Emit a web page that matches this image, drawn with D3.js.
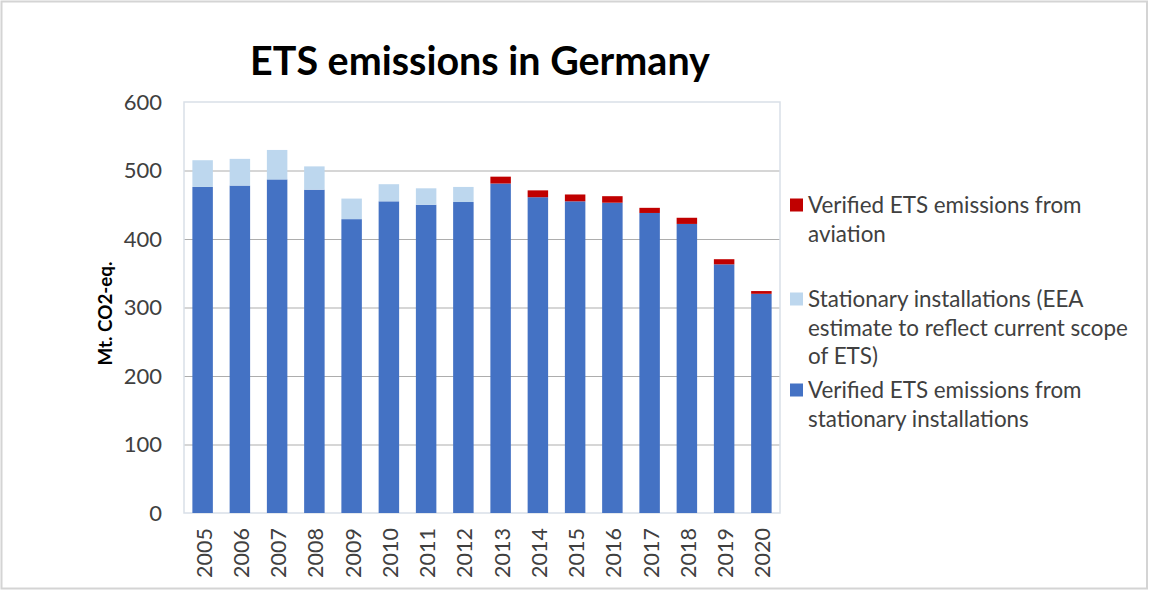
<!DOCTYPE html>
<html>
<head>
<meta charset="utf-8">
<script src="https://cdn.jsdelivr.net/npm/d3@7"></script>
<style>
  body { margin: 0; background: #fff; }
  svg text { font-family: Lato, "Open Sans", sans-serif; }
</style>
</head>
<body>
<svg id="chart" width="1149" height="591"></svg>
<script>
// Chart data (Mt CO2-eq.)
var years = ["2005", "2006", "2007", "2008", "2009", "2010", "2011", "2012",
             "2013", "2014", "2015", "2016", "2017", "2018", "2019", "2020"];
var verifiedStationary = [476, 478, 487, 472, 429, 455, 450, 454, 481, 461, 455, 453, 438, 422, 363, 320];
var eeaEstimate        = [39, 39, 43, 34, 30, 25, 24, 22, 0, 0, 0, 0, 0, 0, 0, 0];
var aviation           = [0, 0, 0, 0, 0, 0, 0, 0, 10, 10, 10, 9.5, 7.5, 9, 7.5, 4];
var yTicks = [0, 100, 200, 300, 400, 500, 600];

var seriesKeys = ["stationary", "estimate", "aviation"];
var seriesColors = { stationary: "#4472C4", estimate: "#BDD7EE", aviation: "#C00000" };

// legend entries, top to bottom, as wrapped lines
var legendItems = [
    { key: "aviation", lines: ["Verified ETS emissions from", "aviation"] },
    { key: "estimate", lines: ["Stationary installations (EEA", "estimate to reflect current scope", "of ETS)"] },
    { key: "stationary", lines: ["Verified ETS emissions from", "stationary installations"] }
];
var legendFirstLineY = [205, 299, 390];

// plot area
var plot = { left: 184, right: 780, top: 102, bottom: 513 };

var svg = d3.select("#chart");

// outer frame
svg.append("rect")
    .attr("x", 1.5).attr("y", 1.5)
    .attr("width", 1145.5).attr("height", 587)
    .attr("fill", "#fff")
    .attr("stroke", "#d4d4d4")
    .attr("stroke-width", 2);

// build table for the stack
var table = years.map(function(y, i) {
    return { year: y, stationary: verifiedStationary[i], estimate: eeaEstimate[i], aviation: aviation[i] };
});
var stacked = d3.stack().keys(seriesKeys)(table);

var xScale = d3.scaleBand()
    .domain(years)
    .range([plot.left, plot.right])
    .paddingInner(0.45)
    .paddingOuter(0.225);

var yScale = d3.scaleLinear()
    .domain([0, 600])
    .range([plot.bottom, plot.top]);

// gridlines
svg.append("g")
    .attr("transform", "translate(" + plot.left + ",0)")
    .call(d3.axisLeft(yScale)
        .tickValues(yTicks.filter(function(t) { return t > 0 && t < 600; }))
        .tickSize(-(plot.right - plot.left))
        .tickFormat(""))
    .call(function(g) { g.select(".domain").remove(); })
    .selectAll("line")
    .attr("stroke", "#adadad")
    .attr("stroke-width", 1.2);

// plot border
svg.append("rect")
    .attr("x", plot.left).attr("y", plot.top)
    .attr("width", plot.right - plot.left)
    .attr("height", plot.bottom - plot.top)
    .attr("fill", "none")
    .attr("stroke", "#d9dfe8")
    .attr("stroke-width", 1.5);

// stacked bars
svg.append("g")
    .selectAll("g")
    .data(stacked)
    .enter()
    .append("g")
    .attr("fill", function(s) { return seriesColors[s.key]; })
    .selectAll("rect")
    .data(function(s) { return s; })
    .enter()
    .append("rect")
    .attr("x", function(d) { return xScale(d.data.year); })
    .attr("y", function(d) { return yScale(d[1]); })
    .attr("width", xScale.bandwidth())
    .attr("height", function(d) { return yScale(d[0]) - yScale(d[1]); });

// y axis labels
svg.append("g")
    .attr("transform", "translate(" + plot.left + ",0)")
    .call(d3.axisLeft(yScale).tickValues(yTicks).tickSize(0).tickPadding(22))
    .call(function(g) { g.select(".domain").remove(); })
    .selectAll("text")
    .attr("fill", "#404040")
    .style("font-size", "22px");

// x axis labels (rotated)
svg.append("g")
    .attr("transform", "translate(0," + plot.bottom + ")")
    .call(d3.axisBottom(xScale).tickSize(0))
    .call(function(g) { g.select(".domain").remove(); })
    .selectAll("text")
    .attr("fill", "#404040")
    .style("font-size", "21.5px")
    .attr("text-anchor", "end")
    .attr("transform", "rotate(-90)")
    .attr("x", -15)
    .attr("y", 1.5)
    .attr("dy", "0.35em");

// scale a text's font so that it is a given width
function fitWidth(sel, target) {
    var w = 0;
    sel.each(function() { w = Math.max(w, this.getComputedTextLength()); });
    var fs = parseFloat(sel.style("font-size"));
    sel.style("font-size", (fs * target / w) + "px");
}

// y axis title
var yTitle = svg.append("text")
    .attr("transform", "translate(105," + ((plot.top + plot.bottom) / 2 + 6) + ") rotate(-90)")
    .attr("text-anchor", "middle")
    .attr("dy", "0.35em")
    .style("font-size", "20px")
    .style("font-weight", "bold")
    .attr("fill", "#000")
    .text("Mt. CO2-eq.");
fitWidth(yTitle, 104);

// title
var title = svg.append("text")
    .attr("x", 480)
    .attr("y", 75)
    .attr("text-anchor", "middle")
    .style("font-size", "36px")
    .style("font-weight", "bold")
    .attr("fill", "#000")
    .text("ETS emissions in Germany");
fitWidth(title, 460);

// legend
var lineHeight = 28.7;
var legend = svg.append("g");
legendItems.forEach(function(item, i) {
    var y0 = legendFirstLineY[i];
    legend.append("rect")
        .attr("x", 790)
        .attr("y", y0 - 6.5)
        .attr("width", 13)
        .attr("height", 13)
        .attr("fill", seriesColors[item.key]);
    item.lines.forEach(function(line, j) {
        legend.append("text")
            .attr("class", "legend-line")
            .attr("x", 808)
            .attr("y", y0 + j * lineHeight)
            .attr("dy", "0.35em")
            .attr("fill", "#404040")
            .style("font-size", "20px")
            .text(line);
    });
});
fitWidth(legend.selectAll(".legend-line"), 320);
</script>
</body>
</html>
